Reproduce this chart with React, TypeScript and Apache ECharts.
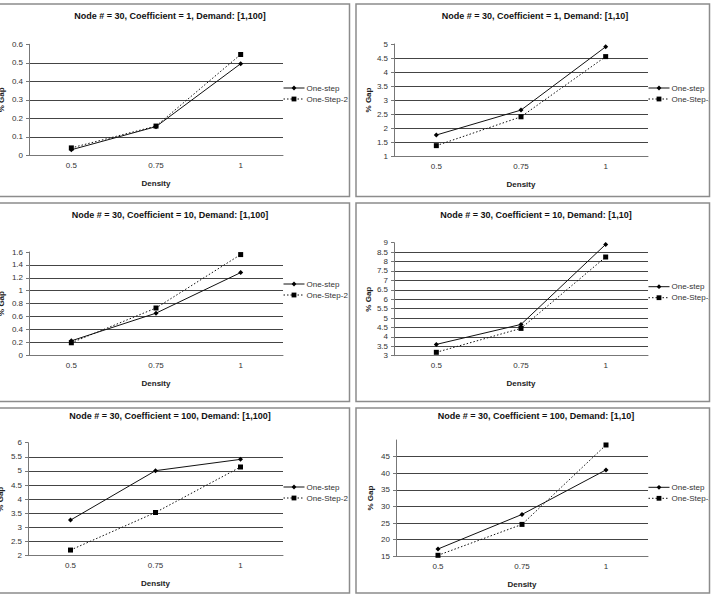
import React, { useEffect, useRef } from 'react';
import * as echarts from 'echarts';

const categories = ['0.5', '0.75', '1'];
const seriesNames = ['One-step', 'One-Step-2'];

const titles = [
  'Node # = 30, Coefficient = 1, Demand: [1,100]',
  'Node # = 30, Coefficient = 1, Demand: [1,10]',
  'Node # = 30, Coefficient = 10, Demand: [1,100]',
  'Node # = 30, Coefficient = 10, Demand: [1,10]',
  'Node # = 30, Coefficient = 100, Demand: [1,100]',
  'Node # = 30, Coefficient = 100, Demand: [1,10]',
];

const oneStepC1D100 = [0.03, 0.155, 0.495];
const oneStep2C1D100 = [0.04, 0.158, 0.545];
const oneStepC1D10 = [1.75, 2.64, 4.9];
const oneStep2C1D10 = [1.37, 2.4, 4.55];
const oneStepC10D100 = [0.22, 0.65, 1.28];
const oneStep2C10D100 = [0.19, 0.73, 1.56];
const oneStepC10D10 = [3.6, 4.66, 8.91];
const oneStep2C10D10 = [3.18, 4.45, 8.24];
const oneStepC100D100 = [3.26, 5.01, 5.41];
const oneStep2C100D100 = [2.2, 3.53, 5.14];
const oneStepC100D10 = [17.2, 27.6, 41];
const oneStep2C100D10 = [15.3, 24.6, 48.5];

const oneStepData = [oneStepC1D100, oneStepC1D10, oneStepC10D100, oneStepC10D10, oneStepC100D100, oneStepC100D10];
const oneStep2Data = [oneStep2C1D100, oneStep2C1D10, oneStep2C10D100, oneStep2C10D10, oneStep2C100D100, oneStep2C100D10];

const yMins = [0, 1, 0, 3, 2, 15];
const yMaxs = [0.6, 5, 1.6, 9, 6, 50];
const yIntervals = [0.1, 0.5, 0.2, 0.5, 0.5, 5];
const xAxisName = 'Density';
const yAxisName = '% Gap';

// layout: panel boxes and plot areas (pixels)
const layout = [
  { box: [-8, 4, 357.5, 192.5], plot: [29, 44.3, 283, 155.3], title: [170, 16], legend: [283, 89] },
  { box: [356, 4, 353.5, 192.5], plot: [394, 44, 648, 156], title: [535, 16], legend: [648, 89] },
  { box: [-8, 203, 357.5, 198.5], plot: [29, 252, 283, 355], title: [170, 215], legend: [283, 285] },
  { box: [356, 203, 353.5, 198.5], plot: [394, 242.7, 648, 355.7], title: [536, 215], legend: [648, 287.7] },
  { box: [-8, 408, 357.5, 185], plot: [28, 442.7, 283, 555.7], title: [170, 415.7], legend: [283, 488] },
  { box: [356, 408, 353.5, 185], plot: [396, 440, 648, 556.3], title: [536, 415.7], legend: [648, 488.3] },
];

const FONT = 'Liberation Sans, Arial, sans-serif';
const TXT = '#333';
const AXIS = '#777';

export default function App() {
  const ref = useRef<HTMLDivElement>(null);
  useEffect(() => {
    if (!ref.current) return;
    const chart = echarts.init(ref.current, null, { renderer: 'svg' });
    const grids: any[] = [];
    const xAxes: any[] = [];
    const yAxes: any[] = [];
    const series: any[] = [];
    const legends: any[] = [];
    const graphics: any[] = [];

    layout.forEach((p, i) => {
      const [l, t, r, b] = p.plot;
      grids.push({ left: l, top: t, width: r - l, height: b - t, containLabel: false, outerBoundsMode: 'none' });
      xAxes.push({
        type: 'category', gridIndex: i, data: categories, boundaryGap: true,
        axisLine: { lineStyle: { color: AXIS, width: 1 } },
        axisTick: { length: 3, lineStyle: { color: AXIS } },
        axisLabel: { fontSize: 8, color: TXT, fontFamily: FONT, margin: 6 },
        splitLine: { show: false },
        name: xAxisName, nameLocation: 'middle', nameGap: 24,
        nameTextStyle: { fontSize: 8, fontWeight: 'bold', color: '#222', fontFamily: FONT },
      });
      yAxes.push({
        type: 'value', gridIndex: i, min: yMins[i], max: yMaxs[i], interval: yIntervals[i],
        axisLine: { show: true, lineStyle: { color: AXIS, width: 1 } },
        axisTick: { show: true, length: 3, lineStyle: { color: AXIS } },
        axisLabel: { fontSize: 8, color: TXT, fontFamily: FONT, margin: 6, showMaxLabel: i !== 5 },
        splitLine: { show: true, showMaxLine: false, lineStyle: { color: '#444', width: 1 } },
        name: yAxisName, nameLocation: 'middle', nameGap: i % 2 === 0 ? 24 : 22,
        nameTextStyle: { fontSize: 8, fontWeight: 'bold', color: '#222', fontFamily: FONT },
      });
      series.push({
        name: seriesNames[0], type: 'line', xAxisIndex: i, yAxisIndex: i, data: oneStepData[i],
        symbol: 'diamond', symbolSize: 5, showSymbol: true,
        lineStyle: { color: '#111', width: 1, type: 'solid' }, itemStyle: { color: '#000' },
      });
      series.push({
        name: seriesNames[1], type: 'line', xAxisIndex: i, yAxisIndex: i, data: oneStep2Data[i],
        symbol: 'rect', symbolSize: 5, showSymbol: true,
        lineStyle: { color: '#111', width: 1, type: [1.5, 2] }, itemStyle: { color: '#000' },
      });
      legends.push({
        orient: 'vertical', left: p.legend[0], top: p.legend[1] - 5, padding: 0,
        itemWidth: 21, itemHeight: 6, itemGap: 3, data: seriesNames,
        lineStyle: { width: 1 },
        textStyle: { fontSize: 8, color: TXT, fontFamily: FONT, padding: [0, 0, 0, -3] },
        selectedMode: false,
      });
      graphics.push({
        type: 'text', x: p.title[0], y: p.title[1], z: 50,
        style: {
          text: titles[i], align: 'center', verticalAlign: 'middle', textAlign: 'center', textVerticalAlign: 'middle',
          fontSize: 9, fontWeight: 'bold', fontFamily: FONT, fill: '#111',
        },
      });
    });

    // clip the right edge
    graphics.push({ type: 'rect', z: 90, shape: { x: 709.8, y: 0, width: 20, height: 600 }, style: { fill: '#fff' } });
    layout.forEach((p) => {
      graphics.push({
        type: 'rect', z: 100,
        shape: { x: p.box[0], y: p.box[1], width: p.box[2], height: p.box[3] },
        style: { fill: 'none', stroke: '#8c8c8c', lineWidth: 1.5 },
      });
    });

    chart.setOption({
      animation: false,
      backgroundColor: '#fff',
      textStyle: { fontFamily: FONT },
      grid: grids, xAxis: xAxes, yAxis: yAxes, series, legend: legends,
      graphic: graphics,
    });
    return () => chart.dispose();
  }, []);
  return <div ref={ref} style={{ position: 'fixed', left: 0, top: 0, width: 711, height: 597 }} />;
}
